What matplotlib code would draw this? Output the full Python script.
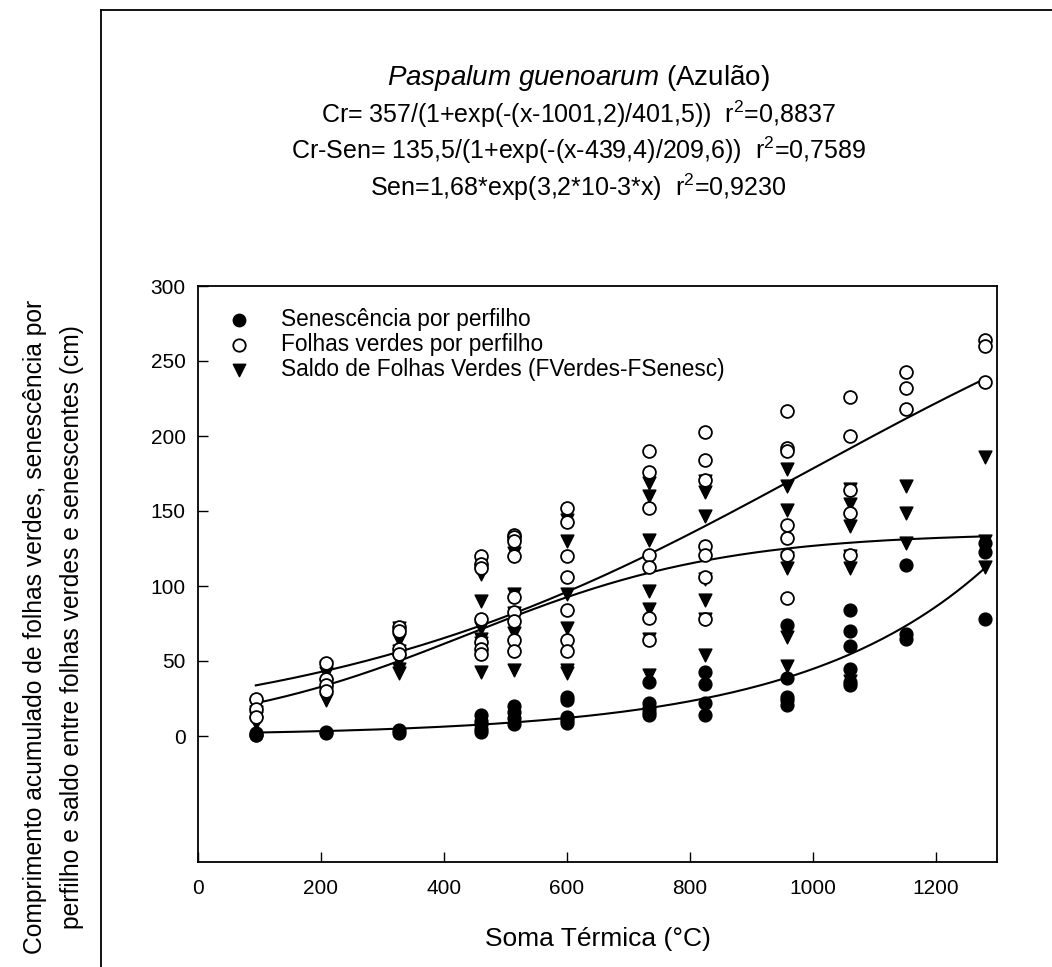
import numpy as np
import matplotlib
matplotlib.use("Agg")
import matplotlib.pyplot as plt
from matplotlib.lines import Line2D

plt.rcParams['font.family'] = ['Liberation Sans', 'DejaVu Sans']
plt.rcParams['mathtext.fontset'] = 'custom'
plt.rcParams['mathtext.rm'] = 'Liberation Sans'
plt.rcParams['mathtext.it'] = 'Liberation Sans:italic'
plt.rcParams['mathtext.default'] = 'regular'

# thermal sum (°C) of each sampling date
soma = [94, 209, 327, 460, 514, 601, 733, 825, 958, 1061, 1152, 1281]

# senescence per tiller (cm), one list per date
senesc = [
    [1, 2, 0.5],
    [2, 3],
    [2, 4],
    [14, 10, 8, 5, 3],
    [20, 16, 12, 8],
    [26, 24, 13, 11, 9],
    [36, 22, 19, 16, 14],
    [43, 35, 22, 14],
    [74, 39, 26, 24, 21],
    [84, 70, 60, 45, 36, 34],
    [114, 68, 65],
    [129, 123, 78],
]

# green leaves per tiller (cm)
verdes = [
    [25, 18, 13],
    [49, 38, 34, 30],
    [73, 70, 58, 55],
    [120, 115, 112, 78, 63, 58, 55],
    [134, 133, 130, 120, 93, 83, 77, 64, 57],
    [152, 143, 120, 106, 84, 64, 57],
    [190, 176, 152, 121, 113, 79, 64],
    [203, 184, 171, 127, 121, 106, 78],
    [217, 192, 190, 141, 132, 121, 92],
    [226, 200, 164, 149, 121],
    [243, 232, 218],
    [264, 260, 236],
]

# balance green - senescent (cm)
saldo = [
    [20, 16, 12, 9],
    [46, 42, 34, 28, 24],
    [72, 64, 57, 50, 45, 42],
    [110, 108, 90, 72, 65, 62, 43],
    [127, 122, 95, 82, 69, 44],
    [144, 130, 95, 72, 44, 42],
    [169, 160, 131, 97, 85, 65, 41],
    [170, 163, 147, 105, 91, 78, 54],
    [178, 167, 151, 119, 112, 66, 47],
    [165, 155, 140, 120, 112, 37],
    [167, 149, 129],
    [186, 130, 113],
]

# fitted curves
cr_fit = [357, 1001.2, 401.5]
crsen_fit = [135.5, 439.4, 209.6]
sen_fit = [1.68, 3.28e-3]

eq_lines = [
    r'Cr= 357/(1+exp(-(x-1001,2)/401,5))  r$^{2}$=0,8837',
    r'Cr-Sen= 135,5/(1+exp(-(x-439,4)/209,6))  r$^{2}$=0,7589',
    r'Sen=1,68*exp(3,2*10-3*x)  r$^{2}$=0,9230',
]


def flatten(groups):
    xs, ys = [], []
    for x, vals in zip(soma, groups):
        xs += [x] * len(vals)
        ys += vals
    return xs, ys


fig = plt.figure(figsize=(10.52, 9.67), dpi=100)
ax = fig.add_axes([198 / 1052, 1 - 862 / 967, 799 / 1052, 576 / 967])

ms = 85
x, y = flatten(saldo)
ax.scatter(x, y, marker='v', s=ms, c='black', zorder=3,
           label='Saldo de Folhas Verdes (FVerdes-FSenesc)')
x, y = flatten(verdes)
ax.scatter(x, y, marker='o', s=ms, facecolors='white', edgecolors='black',
           linewidths=1.3, zorder=3, label='Folhas verdes por perfilho')
x, y = flatten(senesc)
ax.scatter(x, y, marker='o', s=ms, c='black', zorder=3,
           label='Senescência por perfilho')

xx = np.linspace(min(soma), max(soma), 200)
a, x0, b = cr_fit
ax.plot(xx, a / (1 + np.exp(-(xx - x0) / b)), color='black', lw=1.5, zorder=2)
a, x0, b = crsen_fit
ax.plot(xx, a / (1 + np.exp(-(xx - x0) / b)), color='black', lw=1.5, zorder=2)
a, k = sen_fit
ax.plot(xx, a * np.exp(k * xx), color='black', lw=1.5, zorder=2)

ax.set_xlim(0, 1300)
ax.set_ylim(-84, 300)
ax.set_xticks(range(0, 1201, 200))
ax.set_yticks(range(0, 301, 50))
ax.tick_params(direction='in', length=7, width=1, labelsize=15)
ax.tick_params(axis='x', pad=12)
ax.tick_params(axis='y', pad=9)
for s in ax.spines.values():
    s.set_linewidth(1.3)
ax.set_xlabel('Soma Térmica (°C)', fontsize=19, labelpad=21)

h, l = ax.get_legend_handles_labels()
order = [2, 1, 0]
leg = ax.legend([h[i] for i in order], [l[i] for i in order], loc='upper left',
                frameon=False, fontsize=16.3, handlelength=1.0,
                handletextpad=1.36, labelspacing=0.08, borderpad=0,
                borderaxespad=0, bbox_to_anchor=(0.037, 0.962))
for lh in leg.legend_handles:
    lh.set_sizes([80])

fig.text(0.051, 0.352, 'Comprimento acumulado de folhas verdes, senescência por\n'
         'perfilho e saldo entre folhas verdes e senescentes (cm)',
         rotation=90, ha='center', va='center', fontsize=17.7, linespacing=1.7)

fig.text(0.55, 1 - 78 / 967, r'$\it{Paspalum\ guenoarum}$ (Azulão)',
         ha='center', va='center', fontsize=20)
for i, s in enumerate(eq_lines):
    fig.text(0.55, 1 - (114 + 36.5 * i) / 967, s, ha='center', va='center',
             fontsize=18)

# page frame
fig.add_artist(Line2D([101 / 1052, 101 / 1052], [0, 1 - 10 / 967],
                      transform=fig.transFigure, color='black', lw=1.3))
fig.add_artist(Line2D([101 / 1052, 1], [1 - 10 / 967, 1 - 10 / 967],
                      transform=fig.transFigure, color='black', lw=1.3))

fig.savefig('out.png', dpi=100)
